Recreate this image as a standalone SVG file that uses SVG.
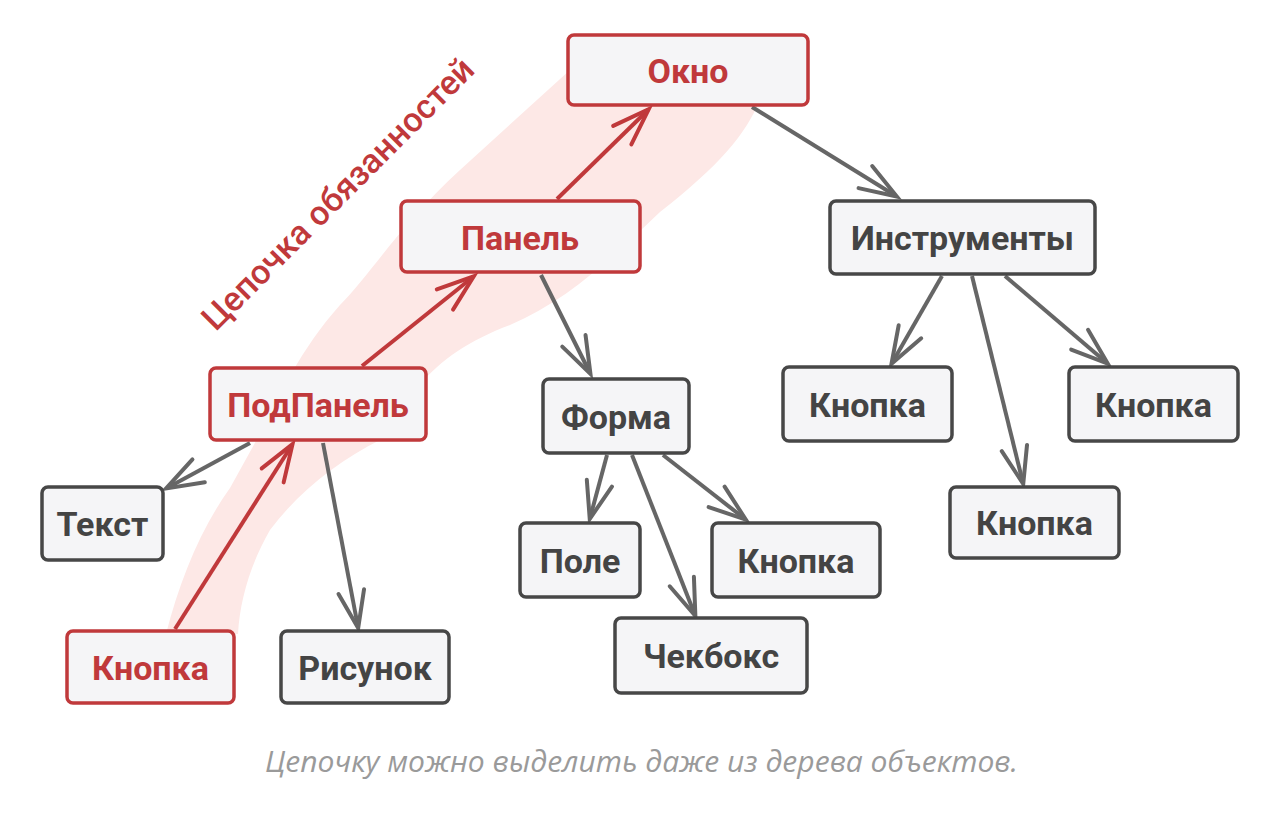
<svg xmlns="http://www.w3.org/2000/svg" width="1280" height="817" viewBox="0 0 1280 817">
<style>
.box rect{fill:#f5f5f7;stroke-width:3.5}
.g rect{stroke:#474747}
.r rect{stroke:#c0393b}
.box text{font-family:Roboto,"Liberation Sans",sans-serif;font-weight:700;font-size:34px;text-anchor:middle}
.g text{fill:#444444}
.r text{fill:#c0393b}
.ln{stroke:#666;stroke-width:4;fill:none}
.lr{stroke:#c0393b;stroke-width:4;fill:none}
</style>
<defs>
<marker id="ag" markerUnits="userSpaceOnUse" markerWidth="60" markerHeight="40" viewBox="-45 -20 60 40" refX="0" refY="0" orient="auto">
<path d="M-36,-13 L1,0 L-36,13" fill="none" stroke="#666" stroke-width="4" stroke-linecap="round"/>
</marker>
<marker id="ar" markerUnits="userSpaceOnUse" markerWidth="60" markerHeight="40" viewBox="-45 -20 60 40" refX="0" refY="0" orient="auto">
<path d="M-36,-13 L1,0 L-36,13" fill="none" stroke="#c0393b" stroke-width="4" stroke-linecap="round"/>
</marker>
</defs>
<rect width="1280" height="817" fill="#ffffff"/>
<path id="band" d="M166,634 C180,580 200,530 230,488 L262,430 C280,395 300,350 340,305 C370,275 400,225 460,170 L570,70 L700,50 L760,100 C745,135 720,165 660,212 C620,250 570,300 510,325 C470,340 440,360 420,385 L380,440 C340,460 300,490 270,530 C250,565 240,600 238,634 Z" fill="#fde8e6"/>
<g id="connectors">
<line class="ln" x1="752" y1="107" x2="896" y2="196" marker-end="url(#ag)"/>
<line class="lr" x1="557" y1="199" x2="648" y2="110" marker-end="url(#ar)"/>
<line class="ln" x1="541" y1="275" x2="590" y2="373" marker-end="url(#ag)"/>
<line class="lr" x1="362" y1="366" x2="473" y2="277" marker-end="url(#ar)"/>
<line class="ln" x1="250" y1="443" x2="167" y2="488" marker-end="url(#ag)"/>
<line class="ln" x1="323" y1="443" x2="358" y2="627" marker-end="url(#ag)"/>
<line class="lr" x1="175" y1="629" x2="292" y2="445" marker-end="url(#ar)"/>
<line class="ln" x1="607" y1="455" x2="590" y2="518" marker-end="url(#ag)"/>
<line class="ln" x1="632" y1="455" x2="695" y2="615" marker-end="url(#ag)"/>
<line class="ln" x1="663" y1="455" x2="745" y2="519" marker-end="url(#ag)"/>
<line class="ln" x1="942" y1="276" x2="892" y2="363" marker-end="url(#ag)"/>
<line class="ln" x1="972" y1="276" x2="1023" y2="483" marker-end="url(#ag)"/>
<line class="ln" x1="1005" y1="276" x2="1107" y2="363" marker-end="url(#ag)"/>
</g>
<g id="okno" class="box r"><rect x="568" y="35" width="240" height="70" rx="6"/><text x="688" y="83">Окно</text></g>
<g id="panel" class="box r"><rect x="401" y="201" width="239" height="71" rx="6"/><text x="520" y="250">Панель</text></g>
<g id="podpanel" class="box r"><rect x="210" y="368" width="216" height="72" rx="6"/><text x="318" y="417">ПодПанель</text></g>
<g id="tekst" class="box g"><rect x="42" y="487" width="121" height="73" rx="6"/><text x="102.5" y="536">Текст</text></g>
<g id="knopka-chain" class="box r"><rect x="67" y="631" width="167" height="72" rx="6"/><text x="150.5" y="680">Кнопка</text></g>
<g id="risunok" class="box g"><rect x="281" y="631" width="168" height="72" rx="6"/><text x="365" y="680">Рисунок</text></g>
<g id="forma" class="box g"><rect x="543" y="379" width="146" height="74" rx="6"/><text x="616" y="429">Форма</text></g>
<g id="pole" class="box g"><rect x="520" y="523" width="120" height="74" rx="6"/><text x="580" y="573">Поле</text></g>
<g id="knopka-forma" class="box g"><rect x="712" y="523" width="168" height="74" rx="6"/><text x="796" y="573">Кнопка</text></g>
<g id="chekboks" class="box g"><rect x="615" y="618" width="192" height="75" rx="6"/><text x="711" y="668">Чекбокс</text></g>
<g id="instrumenty" class="box g"><rect x="830" y="201" width="265" height="73" rx="6"/><text x="962.5" y="250">Инструменты</text></g>
<g id="knopka-1" class="box g"><rect x="783" y="367" width="169" height="74" rx="6"/><text x="867.5" y="417">Кнопка</text></g>
<g id="knopka-2" class="box g"><rect x="1069" y="367" width="169" height="74" rx="6"/><text x="1153.5" y="417">Кнопка</text></g>
<g id="knopka-3" class="box g"><rect x="950" y="487" width="169" height="71" rx="6"/><text x="1034.5" y="535">Кнопка</text></g>
<text id="chain-label" x="346" y="202" transform="rotate(-45 346 202)" font-family="Roboto,'Liberation Sans',sans-serif" font-size="34" font-weight="500" fill="#c0393b" text-anchor="middle">Цепочка обязанностей</text>
<text id="caption" x="641.5" y="772" font-family="'Open Sans','Liberation Sans',sans-serif" font-style="italic" font-size="29" fill="#9a9a9a" text-anchor="middle" textLength="753" lengthAdjust="spacingAndGlyphs">Цепочку можно выделить даже из дерева объектов.</text>
</svg>
